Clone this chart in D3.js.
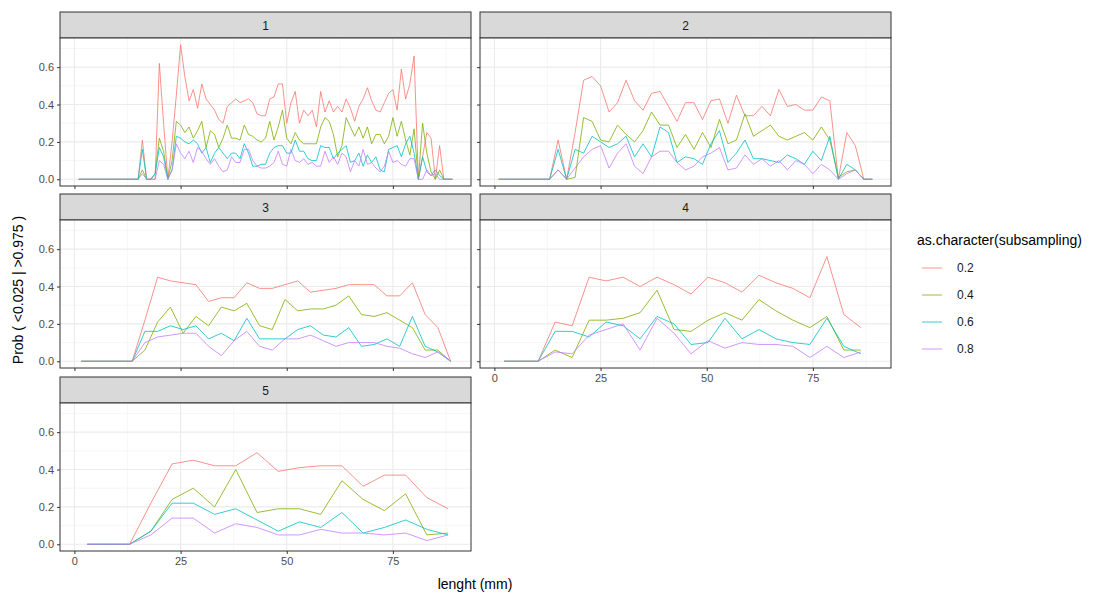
<!DOCTYPE html>
<html><head><meta charset="utf-8">
<script src="https://cdn.jsdelivr.net/npm/d3@7"></script>
<style>body{margin:0;background:#fff;font-family:Arial,"Liberation Sans",sans-serif}</style>
</head><body><svg width="1118" height="595"></svg>
<script>
const subsampling = ["0.2", "0.4", "0.6", "0.8"];
const colors = ["#F8766D", "#7CAE00", "#00BFC4", "#C77CFF"];
const xTicks = [0, 25, 50, 75];
const yTicks = [0, 0.2, 0.4, 0.6];

const z14 = [0,0,0,0,0,0,0,0,0,0,0,0,0,0];
// panel 1: x = 1..89 step 1
const p1x = {start: 1, step: 1};
const p1_02 = z14.concat([0,.21,0,0,0,.62,.30,0,.2,.45,.72,.55,.42,.48,.38,.51,.43,.40,.37,.32,.30,.39,.41,.43,.41,.42,.43,.41,.35,.34,.34,.43,.44,.51,.51,.30,.41,.47,.30,.37,.34,.37,.28,.47,.36,.42,.36,.39,.36,.43,.38,.31,.39,.43,.49,.42,.37,.36,.41,.46,.48,.37,.59,.43,.51,.66,0,.12,.25,.22,0,.18,0,0,0]);
const p1_04 = z14.concat([0,.05,0,0,.03,.22,.15,0,.1,.31,.29,.25,.28,.22,.26,.31,.17,.26,.24,.17,.22,.29,.22,.22,.21,.29,.24,.23,.21,.20,.22,.31,.21,.28,.37,.22,.19,.25,.21,.19,.19,.19,.19,.28,.33,.31,.24,.12,.18,.33,.28,.23,.28,.22,.28,.19,.24,.24,.19,.23,.33,.23,.31,.21,.13,.27,0,.30,.14,.04,0,.05,0,0,0]);
const p1_06 = z14.concat([0,.16,0,0,.03,.17,.12,0,.05,.23,.22,.20,.19,.21,.19,.14,.17,.09,.14,.17,.14,.11,.14,.14,.11,.19,.14,.07,.07,.08,.08,.14,.17,.18,.18,.14,.14,.21,.15,.15,.11,.10,.10,.18,.17,.17,.11,.14,.16,.18,.09,.10,.14,.07,.13,.09,.12,.05,.04,.16,.17,.18,.12,.19,.23,.14,0,.12,.04,.02,.05,.02,0,0,0]);
const p1_08 = z14.concat([0,.03,0,0,0,.10,.08,0,.05,.19,.14,.11,.15,.09,.17,.15,.11,.08,.11,.07,.04,.05,.12,.09,.09,.16,.16,.10,.07,.06,.06,.07,.09,.15,.08,.07,.16,.10,.09,.11,.08,.09,.07,.07,.15,.09,.12,.08,.14,.12,.04,.10,.07,.16,.08,.09,.06,.04,.07,.15,.09,.10,.08,.07,.11,.11,0,0,.05,.02,.03,0,0,0,0]);

// panel 2: x = 1..89 step 2
const p2x = {start: 1, step: 2};
const p2_02 = [0,0,0,0,0,0,0,.21,0,.25,.53,.55,.50,.36,.41,.53,.42,.37,.46,.47,.39,.31,.41,.41,.32,.42,.43,.30,.45,.34,.34,.39,.34,.48,.39,.40,.37,.37,.44,.42,0,.25,.18,0,0];
const p2_04 = [0,0,0,0,0,0,0,.05,0,.01,.33,.31,.21,.20,.29,.24,.20,.26,.36,.29,.29,.17,.24,.16,.25,.17,.32,.19,.21,.35,.23,.26,.29,.23,.21,.23,.25,.21,.28,.21,.01,.04,.05,0,0];
const p2_06 = [0,0,0,0,0,0,0,.16,0,.16,.14,.23,.20,.17,.19,.23,.12,.19,.12,.28,.25,.09,.12,.11,.08,.19,.26,.09,.14,.21,.11,.11,.10,.09,.13,.11,.08,.15,.10,.23,0,.08,.05,0,0];
const p2_08 = [0,0,0,0,0,0,0,.05,0,.06,.12,.16,.18,.06,.14,.19,.07,.03,.12,.15,.15,.09,.05,.07,.12,.14,.17,.05,.06,.13,.08,.11,.07,.10,.05,.10,.08,.03,.08,.05,0,.03,.05,0,0];

// panel 3: step 3
const p3x = {start: 1.6, step: 3};
const p3_02 = [0,0,0,0,0,.22,.45,.43,.42,.41,.32,.34,.34,.42,.39,.39,.41,.43,.37,.38,.39,.41,.41,.41,.35,.35,.42,.25,.18,0];
const p3_04 = [0,0,0,0,0,.06,.21,.29,.15,.24,.19,.29,.27,.31,.19,.17,.33,.27,.28,.28,.30,.35,.25,.24,.26,.22,.18,.06,.06,0];
const p3_06 = [0,0,0,0,0,.16,.16,.19,.17,.19,.12,.15,.11,.23,.12,.12,.12,.17,.19,.14,.13,.18,.08,.09,.12,.08,.24,.08,.05,0];
const p3_08 = [0,0,0,0,0,.10,.13,.14,.15,.15,.08,.03,.11,.16,.08,.06,.12,.12,.14,.11,.08,.10,.10,.10,.08,.07,.04,.02,.05,0];

// panel 4: step 4
const p4x = {start: 2.3, step: 4};
const p4_02 = [0,0,0,.21,.19,.45,.43,.45,.40,.45,.41,.36,.45,.42,.37,.46,.42,.39,.34,.56,.25,.18];
const p4_04 = [0,0,0,.06,.02,.22,.22,.23,.26,.38,.17,.16,.22,.26,.22,.33,.27,.22,.18,.24,.06,.06];
const p4_06 = [0,0,0,.16,.16,.13,.21,.19,.12,.24,.20,.09,.10,.23,.12,.17,.12,.10,.09,.23,.08,.04];
const p4_08 = [0,0,0,.05,.04,.14,.17,.20,.06,.23,.15,.04,.11,.07,.10,.09,.09,.08,.02,.08,.02,.05];

// panel 5: step 5
const p5x = {start: 3, step: 5};
const p5_02 = [0,0,0,.22,.43,.45,.42,.42,.49,.39,.41,.42,.42,.31,.37,.37,.25,.19];
const p5_04 = [0,0,0,.07,.24,.30,.20,.40,.17,.19,.19,.16,.34,.24,.18,.27,.05,.06];
const p5_06 = [0,0,0,.07,.22,.22,.16,.19,.13,.07,.12,.09,.17,.06,.09,.13,.08,.05];
const p5_08 = [0,0,0,.05,.14,.14,.06,.11,.09,.05,.05,.08,.06,.06,.05,.06,.02,.05];

const panels = [
  {label: "1", xs: p1x, series: [p1_02, p1_04, p1_06, p1_08], col: 0, row: 0},
  {label: "2", xs: p2x, series: [p2_02, p2_04, p2_06, p2_08], col: 1, row: 0},
  {label: "3", xs: p3x, series: [p3_02, p3_04, p3_06, p3_08], col: 0, row: 1},
  {label: "4", xs: p4x, series: [p4_02, p4_04, p4_06, p4_08], col: 1, row: 1, xaxis: true},
  {label: "5", xs: p5x, series: [p5_02, p5_04, p5_06, p5_08], col: 0, row: 2, xaxis: true}
];

const svg = d3.select("svg");
const colX = [60, 480], pw = 411;
const rowY = [12, 194, 377], stripH = 26, ph = 148;

const x = d3.scaleLinear().domain([-3.4, 93.4]).range([0, pw]);
const y = d3.scaleLinear().domain([-0.036, 0.756]).range([ph, 0]);

panels.forEach(p => {
  const g = svg.append("g").attr("transform", `translate(${colX[p.col]},${rowY[p.row]})`);
  // strip
  g.append("rect").attr("width", pw).attr("height", stripH)
    .attr("fill", "#d9d9d9").attr("stroke", "#333").attr("stroke-width", 1);
  g.append("text").attr("x", pw / 2).attr("y", stripH / 2 + 4.5)
    .attr("text-anchor", "middle").attr("font-size", 12).attr("fill", "#1a1a1a").text(p.label);

  const pg = g.append("g").attr("transform", `translate(0,${stripH})`);
  pg.append("rect").attr("width", pw).attr("height", ph).attr("fill", "#fff");
  // minor grid
  const minorX = [12.5, 37.5, 62.5, 87.5], minorY = [0.1, 0.3, 0.5, 0.7];
  pg.selectAll(".mx").data(minorX).join("line")
    .attr("x1", d => x(d)).attr("x2", d => x(d)).attr("y1", 0).attr("y2", ph)
    .attr("stroke", "#f2f2f2").attr("stroke-width", 0.6);
  pg.selectAll(".my").data(minorY).join("line")
    .attr("y1", d => y(d)).attr("y2", d => y(d)).attr("x1", 0).attr("x2", pw)
    .attr("stroke", "#f2f2f2").attr("stroke-width", 0.6);
  pg.selectAll(".gx").data(xTicks).join("line")
    .attr("x1", d => x(d)).attr("x2", d => x(d)).attr("y1", 0).attr("y2", ph)
    .attr("stroke", "#ebebeb").attr("stroke-width", 1.1);
  pg.selectAll(".gy").data(yTicks).join("line")
    .attr("y1", d => y(d)).attr("y2", d => y(d)).attr("x1", 0).attr("x2", pw)
    .attr("stroke", "#ebebeb").attr("stroke-width", 1.1);

  const line = d3.line()
    .x((d, i) => x(p.xs.start + i * p.xs.step))
    .y(d => y(d));
  p.series.forEach((s, k) => {
    pg.append("path").datum(s).attr("d", line)
      .attr("fill", "none").attr("stroke", colors[k]).attr("stroke-width", 0.8);
  });

  pg.append("rect").attr("width", pw).attr("height", ph)
    .attr("fill", "none").attr("stroke", "#333").attr("stroke-width", 1);

  // y axis
  const ya = pg.append("g").call(d3.axisLeft(y).tickValues(yTicks).tickSize(3)
    .tickFormat(p.col === 0 ? d3.format(".1f") : ""));
  ya.select(".domain").remove();
  ya.selectAll("line").attr("stroke", "#333");
  ya.selectAll("text").attr("font-size", 11).attr("fill", "#4d4d4d").attr("font-family", "Arial,'Liberation Sans',sans-serif");

  const xa = pg.append("g").attr("transform", `translate(0,${ph})`)
    .call(d3.axisBottom(x).tickValues(xTicks).tickSize(3).tickFormat(p.xaxis ? d3.format("d") : ""));
  xa.select(".domain").remove();
  xa.selectAll("line").attr("stroke", "#333");
  xa.selectAll("text").attr("font-size", 11).attr("fill", "#4d4d4d").attr("font-family", "Arial,'Liberation Sans',sans-serif");
});

// axis titles
svg.append("text").attr("x", 475).attr("y", 589).attr("text-anchor", "middle")
  .attr("font-size", 14).attr("fill", "#000").text("lenght (mm)");
svg.append("text").attr("transform", "translate(23,290) rotate(-90)").attr("text-anchor", "middle")
  .attr("font-size", 14).attr("fill", "#000").text("Prob ( <0.025 | >0.975 )");

// legend
const lg = svg.append("g").attr("transform", "translate(917,230)");
lg.append("text").attr("x", 0).attr("y", 15).attr("font-size", 14).text("as.character(subsampling)");
subsampling.forEach((s, i) => {
  const yy = 38 + i * 27;
  lg.append("line").attr("x1", 5).attr("x2", 25).attr("y1", yy).attr("y2", yy)
    .attr("stroke", colors[i]).attr("stroke-width", 0.8);
  lg.append("text").attr("x", 40).attr("y", yy + 4).attr("font-size", 12).attr("fill", "#1a1a1a").text(s);
});
</script></body></html>
